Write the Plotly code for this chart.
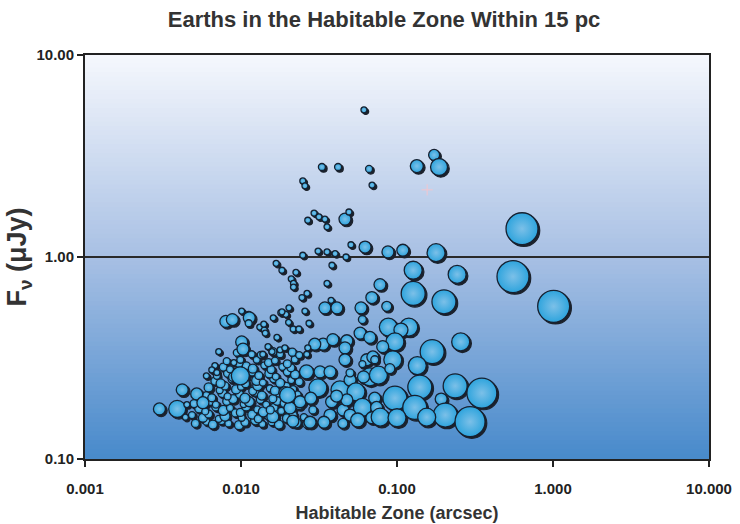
import plotly.graph_objects as go

# ---------------- text ----------------
title_text = "Earths in the Habitable Zone Within 15 pc"
x_title = "Habitable Zone (arcsec)"
y_title = "F<sub>ν</sub> (μJy)"
x_tickvals = [0.001, 0.01, 0.1, 1, 10]
x_ticktext = ["0.001", "0.010", "0.100", "1.000", "10.000"]
y_tickvals = [0.1, 1, 10]
y_ticktext = ["0.10", "1.00", "10.00"]

# ---------------- individual stars (habitable zone arcsec, flux uJy, symbol size) ----------------
hz = [0.0614, 0.033, 0.0419, 0.0662, 0.0249, 0.0257, 0.0692, 0.134, 0.173, 0.186,
      0.0294, 0.0268, 0.0316, 0.0345, 0.0356, 0.0464, 0.0492,
      0.0249, 0.0312, 0.0356, 0.0401, 0.0471, 0.0507, 0.0624, 0.0875, 0.109, 0.178, 0.127, 0.243,
      0.0168, 0.0183, 0.0225, 0.021, 0.0217, 0.0217, 0.0383, 0.0356, 0.0778,
      0.633, 0.554, 1.01, 0.127, 0.2, 0.069, 0.086,
      0.0265, 0.0246, 0.0378, 0.0345, 0.0412, 0.0588, 0.0203, 0.018, 0.0194, 0.0257, 0.0161, 0.0101, 0.0112,
      0.008, 0.0088, 0.0113, 0.0112, 0.0132, 0.0141, 0.0143, 0.0101, 0.0103, 0.0072, 0.0099, 0.0117, 0.009,
      0.0068, 0.0065, 0.0070, 0.006, 0.0099,
      0.0042, 0.0052, 0.0057, 0.0030, 0.0039, 0.0044, 0.0045,
      0.0183, 0.0273, 0.0202, 0.0216, 0.0235, 0.0140,
      0.058, 0.067, 0.0336, 0.0388, 0.0477, 0.0464, 0.0464, 0.0297, 0.0264, 0.0268, 0.017, 0.0178, 0.0191,
      0.0158, 0.0149, 0.0138,
      0.064, 0.070, 0.06, 0.0321, 0.0372, 0.0311, 0.0431, 0.05, 0.0546, 0.060, 0.067, 0.072,
      0.0191, 0.0239, 0.0206, 0.0289, 0.0381, 0.0451, 0.050, 0.0372, 0.0277, 0.0215, 0.016, 0.0154,
      0.119, 0.088, 0.106, 0.256, 0.168, 0.097, 0.072, 0.081, 0.094, 0.135, 0.076, 0.090,
      0.140, 0.236, 0.35, 0.097, 0.192, 0.13, 0.204, 0.294, 0.155, 0.074, 0.069, 0.050, 0.061, 0.0477,
      0.078, 0.100, 0.060, 0.0199, 0.0263,
      0.034, 0.056, 0.045, 0.041, 0.028]

flux = [5.35, 2.79, 2.79, 2.73, 2.38, 2.25, 2.27, 2.82, 3.20, 2.79,
        1.65, 1.52, 1.58, 1.54, 1.41, 1.54, 1.67,
        1.02, 1.07, 1.06, 1.04, 1.00, 1.15, 1.12, 1.06, 1.08, 1.05, 0.86, 0.82,
        0.93, 0.86, 0.84, 0.78, 0.74, 0.71, 0.91, 0.74, 0.73,
        1.38, 0.80, 0.57, 0.66, 0.60, 0.63, 0.57,
        0.66, 0.63, 0.61, 0.56, 0.56, 0.56, 0.56, 0.53, 0.52, 0.54, 0.50, 0.54, 0.52,
        0.48, 0.49, 0.50, 0.47, 0.45, 0.435, 0.42, 0.38, 0.35, 0.34, 0.31, 0.33, 0.30,
        0.29, 0.276, 0.268, 0.258, 0.258,
        0.22, 0.21, 0.19, 0.177, 0.177, 0.161, 0.186,
        0.535, 0.47, 0.475, 0.44, 0.44, 0.465,
        0.42, 0.40, 0.37, 0.39, 0.385, 0.355, 0.31, 0.37, 0.33, 0.355, 0.40, 0.347, 0.355,
        0.34, 0.36, 0.33,
        0.31, 0.32, 0.295, 0.27, 0.27, 0.225, 0.22, 0.246, 0.215, 0.18, 0.255, 0.20,
        0.213, 0.192, 0.179, 0.175, 0.192, 0.175, 0.165, 0.165, 0.152, 0.154, 0.162, 0.175,
        0.45, 0.45, 0.435, 0.38, 0.34, 0.38, 0.31, 0.36, 0.31, 0.29, 0.26, 0.28,
        0.227, 0.23, 0.212, 0.20, 0.198, 0.18, 0.165, 0.153, 0.161, 0.18, 0.16, 0.267, 0.255, 0.196,
        0.161, 0.16, 0.49, 0.207, 0.27,
        0.152, 0.156, 0.150, 0.205, 0.200]

symbol_size = [6, 7, 7, 7, 6, 6, 6, 13, 11, 17,
               6, 6, 6, 6, 6, 12, 6,
               6, 6, 6, 6, 6, 6, 12, 12, 12, 18, 18, 18,
               6, 6, 6, 6, 6, 6, 6, 6, 12,
               32, 32, 32, 24, 24, 12, 10,
               6, 6, 6, 12, 12, 12, 6, 6, 6, 6, 6, 6, 6,
               12, 12, 12, 7, 6, 6, 6, 12, 12, 6, 7, 7, 6,
               6, 6, 6, 6, 18,
               12, 12, 12, 12, 17, 6, 6,
               6, 6, 6, 6, 6, 6,
               12, 12, 12, 12, 12, 12, 12, 12, 6, 6, 6, 6, 6,
               6, 6, 6,
               12, 12, 7, 12, 12, 18, 18, 12, 18, 18, 18, 12,
               12, 12, 12, 8, 12, 12, 12, 12, 12, 12, 12, 8,
               18, 18, 14, 18, 24, 18, 8, 12, 18, 18, 18, 10,
               24, 24, 30, 24, 12, 24, 24, 30, 18, 12, 12, 8, 12, 12,
               18, 18, 8, 16, 14,
               12, 14, 10, 12, 12]

# ---------------- dense cluster of faint / close-in stars (row by row) ----------------
cluster_hz_rows = [
    [0.0051, 0.0060, 0.0066, 0.0075, 0.0083, 0.0097, 0.0106, 0.0124, 0.0137, 0.0158, 0.0175, 0.0205, 0.0226, 0.0264],
    [0.00485, 0.0057, 0.0062, 0.0072, 0.0079, 0.0092, 0.0101, 0.0118, 0.0129, 0.0152, 0.0168, 0.0197, 0.0216, 0.0253],
    [0.0054, 0.0059, 0.0069, 0.0077, 0.0085, 0.0099, 0.0108, 0.0127, 0.0139, 0.0163, 0.0181, 0.0212, 0.0236],
    [0.0050, 0.0064, 0.0069, 0.0081, 0.0089, 0.0104, 0.0113, 0.0133, 0.0145, 0.0171, 0.0189, 0.0222],
    [0.0060, 0.0065, 0.0076, 0.0082, 0.0098, 0.0106, 0.0124, 0.0136, 0.0160, 0.0175, 0.0207, 0.0229],
    [0.0062, 0.0073, 0.0079, 0.0093, 0.0100, 0.0119, 0.0128, 0.0153, 0.0165, 0.0195, 0.0216],
    [0.0068, 0.0074, 0.0087, 0.0107, 0.0126, 0.0138, 0.0162, 0.0178, 0.0210, 0.0236],
    [0.0070, 0.0082, 0.0089, 0.0118, 0.0130, 0.0152, 0.0167, 0.0198, 0.0222],
    [0.0077, 0.0085, 0.0108, 0.0119, 0.0141, 0.0156, 0.0184, 0.0209],
    [0.0081, 0.0097, 0.0126, 0.0150, 0.0165, 0.0198, 0.0221],
    [0.0094, 0.0134, 0.0160, 0.0178, 0.0213, 0.0236],
]
cluster_flux_rows = [
    [0.150, 0.153, 0.148, 0.155, 0.150, 0.147, 0.152, 0.156, 0.149, 0.153, 0.148, 0.157, 0.151, 0.149],
    [0.165, 0.160, 0.167, 0.158, 0.163, 0.169, 0.160, 0.166, 0.158, 0.164, 0.170, 0.159, 0.165, 0.161],
    [0.178, 0.172, 0.181, 0.174, 0.179, 0.170, 0.182, 0.176, 0.171, 0.180, 0.173, 0.178, 0.184],
    [0.188, 0.195, 0.186, 0.193, 0.198, 0.187, 0.192, 0.197, 0.186, 0.194, 0.189, 0.199],
    [0.207, 0.201, 0.212, 0.204, 0.209, 0.200, 0.213, 0.206, 0.199, 0.211, 0.203, 0.208],
    [0.226, 0.219, 0.230, 0.221, 0.228, 0.217, 0.231, 0.224, 0.218, 0.229, 0.222],
    [0.243, 0.237, 0.248, 0.236, 0.245, 0.239, 0.250, 0.238, 0.246, 0.241],
    [0.258, 0.266, 0.255, 0.268, 0.259, 0.265, 0.256, 0.270, 0.262],
    [0.285, 0.278, 0.289, 0.280, 0.291, 0.277, 0.286, 0.283],
    [0.305, 0.298, 0.310, 0.300, 0.307, 0.296, 0.311],
    [0.336, 0.328, 0.340, 0.330, 0.338, 0.327],
]
cluster_size_rows = [
    [8, 7, 9, 8, 7, 9, 8, 10, 7, 8, 9, 8, 10, 8],
    [7, 9, 8, 7, 10, 8, 7, 9, 8, 10, 7, 9, 8, 7],
    [9, 7, 8, 10, 7, 8, 9, 7, 10, 8, 7, 9, 8],
    [8, 10, 7, 8, 9, 7, 10, 8, 7, 9, 8, 7],
    [7, 8, 9, 7, 8, 10, 7, 9, 8, 7, 10, 8],
    [9, 7, 8, 9, 7, 8, 10, 7, 9, 8, 7],
    [8, 9, 7, 8, 10, 7, 8, 9, 7, 8],
    [7, 8, 9, 7, 8, 9, 7, 8, 9],
    [8, 7, 8, 9, 7, 8, 7, 8],
    [7, 8, 7, 8, 7, 8, 7],
    [7, 7, 8, 7, 8, 7],
]

# faint marker seen in the figure
cross_hz = [0.156]
cross_flux = [2.15]

# ---------------- flatten cluster ----------------
cl_x, cl_y, cl_s = [], [], []
for xs, ys, ss in zip(cluster_hz_rows, cluster_flux_rows, cluster_size_rows):
    cl_x += xs
    cl_y += ys
    cl_s += ss

all_x = cl_x + hz
all_y = cl_y + flux
all_s = cl_s + symbol_size

fig = go.Figure()

# drop shadow (slightly offset down-right)
fig.add_trace(go.Scatter(
    x=[v * 1.026 for v in all_x], y=[v / 1.019 for v in all_y],
    mode="markers", hoverinfo="skip", showlegend=False,
    marker=dict(size=all_s, color="#1c222c", opacity=1,
                line=dict(width=1.2, color="#1c222c")),
))
# bubbles
fig.add_trace(go.Scatter(
    x=all_x, y=all_y, mode="markers", showlegend=False,
    marker=dict(size=all_s, color="#2ea4dd", opacity=1,
                gradient=dict(type="radial", color="#7cc0e8"),
                line=dict(width=1.3, color="#162030")),
))
fig.add_trace(go.Scatter(
    x=cross_hz, y=cross_flux, mode="markers", showlegend=False,
    marker=dict(symbol="cross-thin", size=8, opacity=1,
                line=dict(width=1, color="#f2c6cf")),
))

# vertical gradient background made of thin strips
def lerp(a, b, t):
    return tuple(round(a[i] + (b[i] - a[i]) * t) for i in range(3))

top = (246, 248, 253)
mid = (168, 192, 228)
bot = (72, 138, 203)
n = 90
shapes = []
for i in range(n):
    t = (i + 0.5) / n  # 0 at top, 1 at bottom
    c = lerp(top, mid, t / 0.5) if t < 0.5 else lerp(mid, bot, (t - 0.5) / 0.5)
    y1 = 1 - i / n
    y0 = 1 - (i + 1) / n
    shapes.append(dict(type="rect", xref="paper", yref="paper", x0=0, x1=1,
                       y0=y0 - 0.002, y1=y1 + 0.002, layer="below",
                       line=dict(width=0), fillcolor="rgb(%d,%d,%d)" % c))

font_family = "Liberation Sans"
fig.update_layout(
    width=740, height=524,
    margin=dict(l=85, r=31, t=55, b=65),
    paper_bgcolor="white", plot_bgcolor="white",
    shapes=shapes,
    title=dict(text=title_text, x=0.519, xref="container", xanchor="center",
               y=0.963, yref="container", yanchor="middle",
               font=dict(family=font_family, size=22, color="#333333", weight="bold")),
    font=dict(family=font_family, color="#222222"),
)
fig.update_xaxes(
    type="log", range=[-3, 1], tickvals=x_tickvals, ticktext=x_ticktext,
    showgrid=False, zeroline=False, automargin=False,
    showline=True, mirror=True, linecolor="#222222", linewidth=2,
    ticks="outside", ticklen=6, tickwidth=2, tickcolor="#222222",
    ticklabelstandoff=9,
    tickfont=dict(size=15, family=font_family, color="#222222", weight="bold"),
    title=dict(text=x_title, standoff=10,
               font=dict(size=18, family=font_family, color="#333333", weight="bold")),
)
fig.update_yaxes(
    type="log", range=[-1, 1], tickvals=y_tickvals, ticktext=y_ticktext,
    showgrid=True, gridcolor="#2a2a2a", gridwidth=2, zeroline=False, automargin=False,
    showline=True, mirror=True, linecolor="#222222", linewidth=2,
    ticks="outside", ticklen=6, tickwidth=2, tickcolor="#222222",
    tickfont=dict(size=15, family=font_family, color="#222222", weight="bold"),
    title=dict(text=y_title, standoff=2,
               font=dict(size=27, family=font_family, color="#333333", weight="bold")),
)

fig.write_html("out.html")
